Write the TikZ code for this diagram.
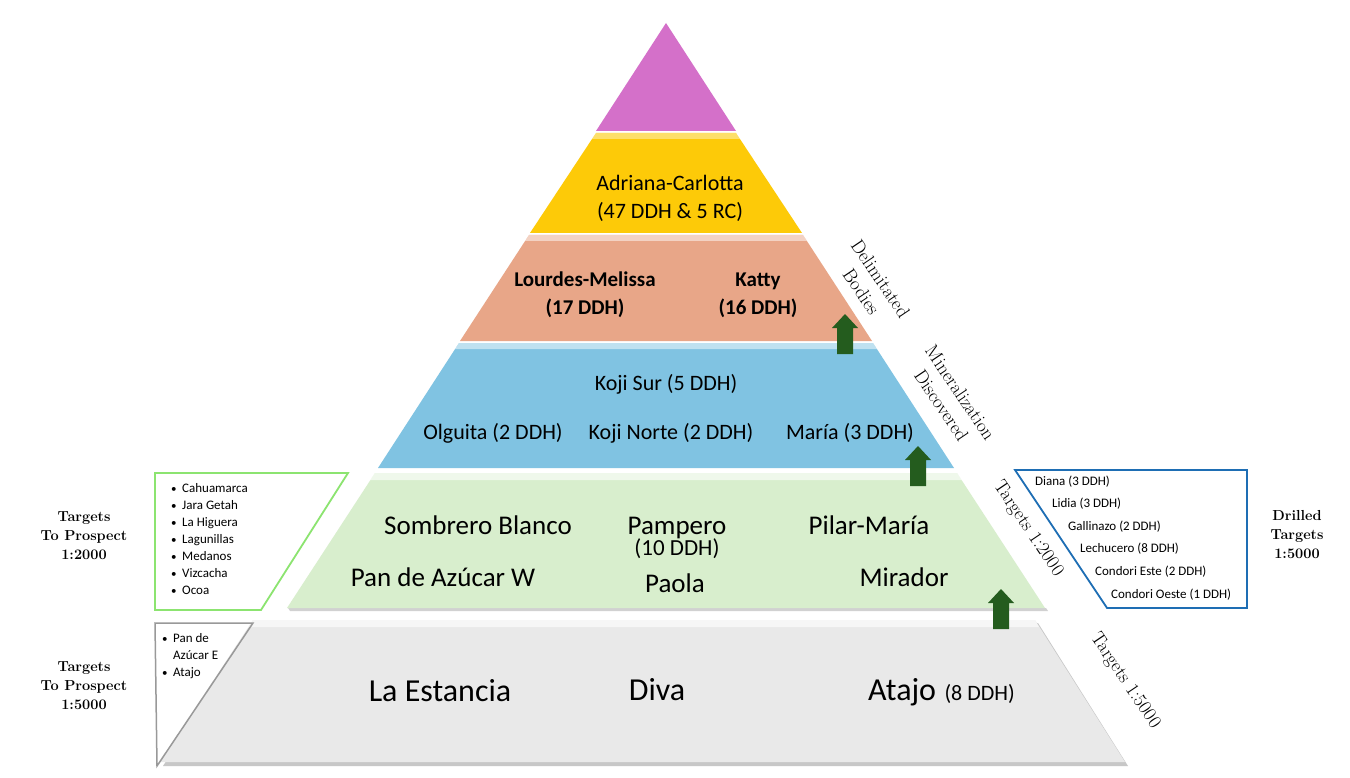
\documentclass[tikz,border=0pt]{standalone}
\usepackage{fontspec}
\newfontfamily\calib{Carlito}
\usepackage{tikz}
\usetikzlibrary{calc}
\usetikzlibrary{shapes}

\definecolor{tierpurple}{RGB}{212,112,201}
\definecolor{tieryellow}{RGB}{253,202,8}
\definecolor{tierorange}{RGB}{232,166,136}
\definecolor{tierblue}{RGB}{128,195,226}
\definecolor{tiergreen}{RGB}{216,238,205}
\definecolor{tiergray}{RGB}{233,233,233}
\definecolor{upgreen}{RGB}{36,92,30}
\definecolor{boxgreen}{RGB}{140,228,112}
\definecolor{boxblue}{RGB}{30,110,180}

\newcommand{\itemdot}{\makebox[11pt][l]{\fontsize{11}{11}\selectfont•}}

\begin{document}
\begin{tikzpicture}[x=1pt, y=-1pt,
  tier/.style={anchor=base, inner sep=0pt, font=\calib\fontsize{22}{26}\selectfont},
  boldtier/.style={tier, font=\calib\bfseries\fontsize{21}{26}\selectfont},
  bigtier/.style={tier, font=\calib\fontsize{27}{32}\selectfont},
  basetier/.style={tier, font=\calib\fontsize{32}{38}\selectfont},
  item/.style={anchor=base west, inner sep=0pt, font=\calib\fontsize{13}{16}\selectfont},
  side/.style={align=center, inner sep=0pt, font=\bfseries\fontsize{14.5}{19}\selectfont},
  slope/.style={align=center, inner sep=0pt, rotate=-56, font=\fontsize{19}{23}\selectfont},
  upbox/.style={fill=upgreen}]
\useasboundingbox[fill=white] (0,0) rectangle (1350,778);

% pyramid tiers
\fill[black!22] (256,623) -- (1038,623) -- (1128,766) -- (163,766) -- cycle;
\fill[tiergray] (253,620) -- (1035,620) -- (1125,762) -- (160,762) -- cycle;
\fill[white, opacity=0.6] (253,620) -- (1035,620) -- (1039,627) -- (249,627) -- cycle;
\fill[black!18] (290,611) -- (1048,611) -- (1046,608) -- (288,608) -- cycle;
\fill[tiergreen] (375,473) -- (957,473) -- (1045,608) -- (287,608) -- cycle;
\fill[white, opacity=0.6] (375,473) -- (957,473) -- (962,480) -- (370,480) -- cycle;
\fill[tierblue] (459,343) -- (873,343) -- (954,468) -- (378,468) -- cycle;
\fill[white, opacity=0.5] (459,343) -- (873,343) -- (877,349) -- (455,349) -- cycle;
\fill[tierorange] (529,235) -- (803,235) -- (872,341) -- (460,341) -- cycle;
\fill[white, opacity=0.5] (529,235) -- (803,235) -- (807,241) -- (525,241) -- cycle;
\fill[tieryellow] (596,133) -- (736,133) -- (802,233) -- (530,233) -- cycle;
\fill[white, opacity=0.4] (596,133) -- (736,133) -- (740,139) -- (592,139) -- cycle;
\fill[tierpurple] (666,23) -- (736,131) -- (596,131) -- cycle;

% labels inside the tiers
\node[name=adriana, tier] at (670,191) {Adriana-Carlotta};
\node[name=adrianaddh, tier] at (670,219) {(47 DDH \& 5 RC)};
\node[name=lourdes, boldtier] at (585,287) {Lourdes-Melissa};
\node[name=lourdesddh, boldtier] at (585,314) {(17 DDH)};
\node[name=katty, boldtier] at (758,287) {Katty};
\node[name=kattyddh, boldtier] at (758,314) {(16 DDH)};
\node[name=kojisur, tier] at (666,390) {Koji Sur (5 DDH)};
\node[name=olguita, tier] at (493,439) {Olguita (2 DDH)};
\node[name=kojinorte, tier] at (671,439) {Koji Norte (2 DDH)};
\node[name=maria, tier] at (850,439) {María (3 DDH)};
\node[name=sombrero, bigtier] at (478,534) {Sombrero Blanco};
\node[name=pampero, bigtier] at (677,534) {Pampero};
\node[name=pamperoddh, tier, font=\calib\fontsize{23}{26}\selectfont] at (677,555) {(10 DDH)};
\node[name=pilar, bigtier] at (869,534) {Pilar-María};
\node[name=panw, bigtier] at (443,586) {Pan de Azúcar W};
\node[name=paola, bigtier] at (675,592) {Paola};
\node[name=mirador, bigtier] at (904,586) {Mirador};
\node[name=estancia, basetier] at (440,701) {La Estancia};
\node[name=diva, basetier] at (657,700) {Diva};
\node[name=atajo, basetier, anchor=base west] at (868,700) {Atajo};
\node[name=atajoddh, tier, anchor=base west, xshift=8pt] at (atajo.base east) {(8 DDH)};

% up arrows
\fill[upbox] (845,314) -- ++(13,14) -- ++(-5,0) -- ++(0,26) -- ++(-16,0) -- ++(0,-26) -- ++(-5,0) -- cycle;
\fill[upbox] (918,446) -- ++(13,14) -- ++(-5,0) -- ++(0,26) -- ++(-16,0) -- ++(0,-26) -- ++(-5,0) -- cycle;
\fill[upbox] (1001,589) -- ++(13,14) -- ++(-5,0) -- ++(0,26) -- ++(-16,0) -- ++(0,-26) -- ++(-5,0) -- cycle;

% labels along the slope
\node[name=delim, slope] at (871,285) {Delimitated\\Bodies};
\node[name=mineral, slope] at (951,399) {Mineralization\\Discovered};
\node[name=tgt2000, slope] at (1028,529) {Targets 1:2000};
\node[name=tgt5000, slope] at (1125,681) {Targets 1:5000};

% boxes on the left
\draw[boxgreen, line width=1.8pt] (155,473) -- (348,473) -- (261,610) -- (155,610) -- cycle;
\draw[black!40, line width=1.5pt] (155,623) -- (253,623) -- (157,766) -- cycle;
\node[name=cahua, item] at (171,492) {\itemdot Cahuamarca};
\node[name=jara, item] at (171,509) {\itemdot Jara Getah};
\node[name=higuera, item] at (171,526) {\itemdot La Higuera};
\node[name=lagun, item] at (171,543) {\itemdot Lagunillas};
\node[name=medanos, item] at (171,560) {\itemdot Medanos};
\node[name=vizca, item] at (171,577) {\itemdot Vizcacha};
\node[name=ocoa, item] at (171,594) {\itemdot Ocoa};
\node[name=pane, item] at (162,642) {\itemdot Pan de};
\node[name=panazucar, item] at (173,659) {Azúcar E};
\node[name=atajoitem, item] at (162,676) {\itemdot Atajo};
\node[name=prosp2000, side] at (84,536) {Targets\\To Prospect\\1:2000};
\node[name=prosp5000, side] at (84,686) {Targets\\To Prospect\\1:5000};

% box on the right
\draw[boxblue, line width=1.8pt] (1015,470) -- (1247,470) -- (1247,608) -- (1107,608) -- cycle;
\node[name=diana, item] at (1035,485) {Diana (3 DDH)};
\node[name=lidia, item] at (1052,507) {Lidia (3 DDH)};
\node[name=gallinazo, item] at (1068,530) {Gallinazo (2 DDH)};
\node[name=lechucero, item] at (1080,552) {Lechucero (8 DDH)};
\node[name=condorie, item] at (1095,575) {Condori Este (2 DDH)};
\node[name=condorio, item] at (1111,598) {Condori Oeste (1 DDH)};
\node[name=drilled, side] at (1297,535) {Drilled\\Targets\\1:5000};
\end{tikzpicture}
\end{document}
